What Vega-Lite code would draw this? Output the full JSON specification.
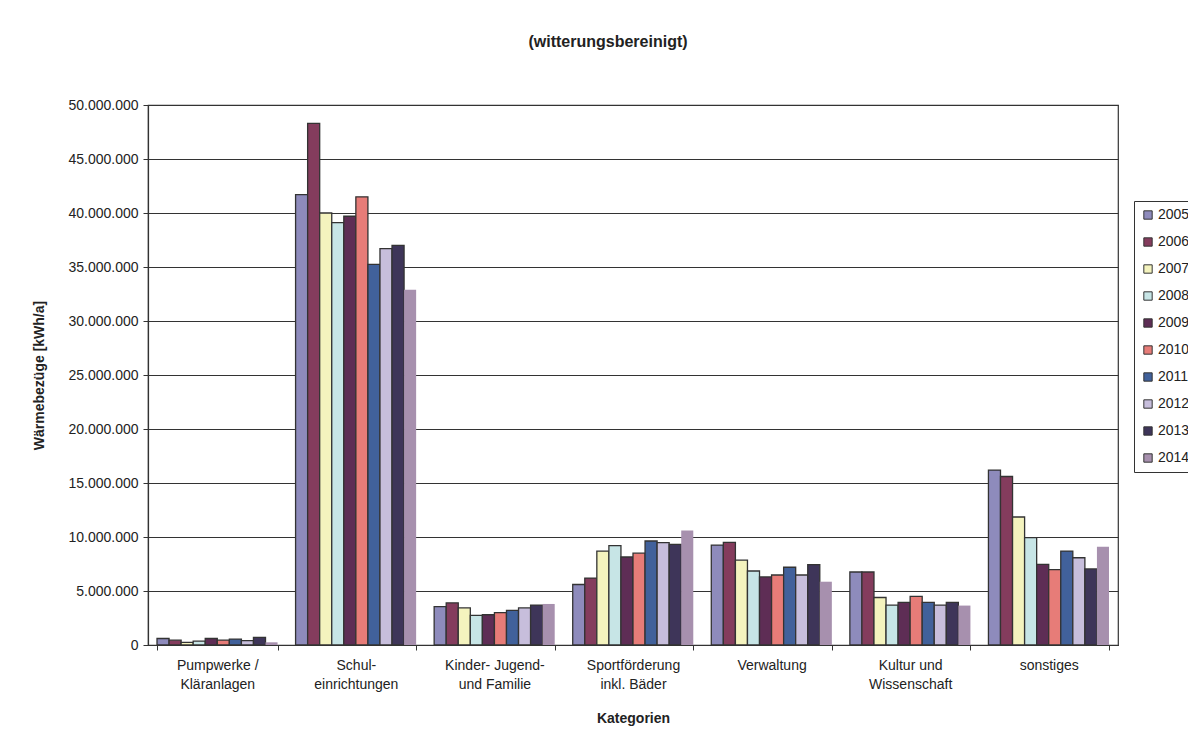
{
  "$schema": "https://vega.github.io/schema/vega-lite/v6.json",
  "width": 970,
  "height": 540,
  "autosize": {"type": "none"},
  "padding": {"left": 148, "top": 105, "right": 70, "bottom": 95},
  "background": "#ffffff",
  "title": {
    "text": "(witterungsbereinigt)",
    "font": "Liberation Sans",
    "fontSize": 16,
    "fontWeight": "bold",
    "color": "#222222",
    "anchor": "middle",
    "dx": -25,
    "offset": 48
  },
  "config": {
    "locale": {"number": {"decimal": ",", "thousands": ".", "grouping": [3], "currency": ["", " €"]}},
    "view": {"stroke": "#333333", "strokeWidth": 1.2},
    "font": "Liberation Sans"
  },
  "data": {
    "values": [
      {"kategorie": "Pumpwerke /\nKläranlagen", "jahr": "2005", "wert": 600000},
      {"kategorie": "Pumpwerke /\nKläranlagen", "jahr": "2006", "wert": 450000},
      {"kategorie": "Pumpwerke /\nKläranlagen", "jahr": "2007", "wert": 250000},
      {"kategorie": "Pumpwerke /\nKläranlagen", "jahr": "2008", "wert": 350000},
      {"kategorie": "Pumpwerke /\nKläranlagen", "jahr": "2009", "wert": 600000},
      {"kategorie": "Pumpwerke /\nKläranlagen", "jahr": "2010", "wert": 450000},
      {"kategorie": "Pumpwerke /\nKläranlagen", "jahr": "2011", "wert": 550000},
      {"kategorie": "Pumpwerke /\nKläranlagen", "jahr": "2012", "wert": 400000},
      {"kategorie": "Pumpwerke /\nKläranlagen", "jahr": "2013", "wert": 700000},
      {"kategorie": "Pumpwerke /\nKläranlagen", "jahr": "2014", "wert": 250000},
      {"kategorie": "Schul-\neinrichtungen", "jahr": "2005", "wert": 41700000},
      {"kategorie": "Schul-\neinrichtungen", "jahr": "2006", "wert": 48300000},
      {"kategorie": "Schul-\neinrichtungen", "jahr": "2007", "wert": 40000000},
      {"kategorie": "Schul-\neinrichtungen", "jahr": "2008", "wert": 39100000},
      {"kategorie": "Schul-\neinrichtungen", "jahr": "2009", "wert": 39700000},
      {"kategorie": "Schul-\neinrichtungen", "jahr": "2010", "wert": 41500000},
      {"kategorie": "Schul-\neinrichtungen", "jahr": "2011", "wert": 35250000},
      {"kategorie": "Schul-\neinrichtungen", "jahr": "2012", "wert": 36700000},
      {"kategorie": "Schul-\neinrichtungen", "jahr": "2013", "wert": 37000000},
      {"kategorie": "Schul-\neinrichtungen", "jahr": "2014", "wert": 32900000},
      {"kategorie": "Kinder- Jugend-\nund Familie", "jahr": "2005", "wert": 3550000},
      {"kategorie": "Kinder- Jugend-\nund Familie", "jahr": "2006", "wert": 3900000},
      {"kategorie": "Kinder- Jugend-\nund Familie", "jahr": "2007", "wert": 3430000},
      {"kategorie": "Kinder- Jugend-\nund Familie", "jahr": "2008", "wert": 2750000},
      {"kategorie": "Kinder- Jugend-\nund Familie", "jahr": "2009", "wert": 2800000},
      {"kategorie": "Kinder- Jugend-\nund Familie", "jahr": "2010", "wert": 3000000},
      {"kategorie": "Kinder- Jugend-\nund Familie", "jahr": "2011", "wert": 3200000},
      {"kategorie": "Kinder- Jugend-\nund Familie", "jahr": "2012", "wert": 3430000},
      {"kategorie": "Kinder- Jugend-\nund Familie", "jahr": "2013", "wert": 3700000},
      {"kategorie": "Kinder- Jugend-\nund Familie", "jahr": "2014", "wert": 3800000},
      {"kategorie": "Sportförderung\ninkl. Bäder", "jahr": "2005", "wert": 5600000},
      {"kategorie": "Sportförderung\ninkl. Bäder", "jahr": "2006", "wert": 6200000},
      {"kategorie": "Sportförderung\ninkl. Bäder", "jahr": "2007", "wert": 8700000},
      {"kategorie": "Sportförderung\ninkl. Bäder", "jahr": "2008", "wert": 9200000},
      {"kategorie": "Sportförderung\ninkl. Bäder", "jahr": "2009", "wert": 8150000},
      {"kategorie": "Sportförderung\ninkl. Bäder", "jahr": "2010", "wert": 8500000},
      {"kategorie": "Sportförderung\ninkl. Bäder", "jahr": "2011", "wert": 9630000},
      {"kategorie": "Sportförderung\ninkl. Bäder", "jahr": "2012", "wert": 9470000},
      {"kategorie": "Sportförderung\ninkl. Bäder", "jahr": "2013", "wert": 9320000},
      {"kategorie": "Sportförderung\ninkl. Bäder", "jahr": "2014", "wert": 10600000},
      {"kategorie": "Verwaltung", "jahr": "2005", "wert": 9250000},
      {"kategorie": "Verwaltung", "jahr": "2006", "wert": 9500000},
      {"kategorie": "Verwaltung", "jahr": "2007", "wert": 7850000},
      {"kategorie": "Verwaltung", "jahr": "2008", "wert": 6850000},
      {"kategorie": "Verwaltung", "jahr": "2009", "wert": 6300000},
      {"kategorie": "Verwaltung", "jahr": "2010", "wert": 6480000},
      {"kategorie": "Verwaltung", "jahr": "2011", "wert": 7200000},
      {"kategorie": "Verwaltung", "jahr": "2012", "wert": 6480000},
      {"kategorie": "Verwaltung", "jahr": "2013", "wert": 7450000},
      {"kategorie": "Verwaltung", "jahr": "2014", "wert": 5860000},
      {"kategorie": "Kultur und\nWissenschaft", "jahr": "2005", "wert": 6760000},
      {"kategorie": "Kultur und\nWissenschaft", "jahr": "2006", "wert": 6760000},
      {"kategorie": "Kultur und\nWissenschaft", "jahr": "2007", "wert": 4400000},
      {"kategorie": "Kultur und\nWissenschaft", "jahr": "2008", "wert": 3700000},
      {"kategorie": "Kultur und\nWissenschaft", "jahr": "2009", "wert": 3950000},
      {"kategorie": "Kultur und\nWissenschaft", "jahr": "2010", "wert": 4500000},
      {"kategorie": "Kultur und\nWissenschaft", "jahr": "2011", "wert": 3950000},
      {"kategorie": "Kultur und\nWissenschaft", "jahr": "2012", "wert": 3700000},
      {"kategorie": "Kultur und\nWissenschaft", "jahr": "2013", "wert": 3950000},
      {"kategorie": "Kultur und\nWissenschaft", "jahr": "2014", "wert": 3650000},
      {"kategorie": "sonstiges", "jahr": "2005", "wert": 16200000},
      {"kategorie": "sonstiges", "jahr": "2006", "wert": 15600000},
      {"kategorie": "sonstiges", "jahr": "2007", "wert": 11850000},
      {"kategorie": "sonstiges", "jahr": "2008", "wert": 9950000},
      {"kategorie": "sonstiges", "jahr": "2009", "wert": 7470000},
      {"kategorie": "sonstiges", "jahr": "2010", "wert": 6970000},
      {"kategorie": "sonstiges", "jahr": "2011", "wert": 8700000},
      {"kategorie": "sonstiges", "jahr": "2012", "wert": 8080000},
      {"kategorie": "sonstiges", "jahr": "2013", "wert": 7040000},
      {"kategorie": "sonstiges", "jahr": "2014", "wert": 9100000}
    ]
  },
  "mark": {"type": "bar", "strokeWidth": 1.3},
  "encoding": {
    "x": {
      "field": "kategorie",
      "type": "nominal",
      "sort": null,
      "scale": {"paddingInner": 0.13, "paddingOuter": 0.065},
      "axis": {
        "title": "Kategorien",
        "titleFont": "Liberation Sans",
        "titleFontSize": 14,
        "titleFontWeight": "bold",
        "titleColor": "#222222",
        "titlePadding": 20,
        "labelAngle": 0,
        "labelExpr": "split(datum.label, '\\n')",
        "labelFont": "Liberation Sans",
        "labelFontSize": 14,
        "labelColor": "#222222",
        "labelPadding": 8,
        "labelLineHeight": 19,
        "tickBand": "extent",
        "tickColor": "#333333",
        "tickSize": 5,
        "domainColor": "#333333",
        "domainWidth": 1.2
      }
    },
    "xOffset": {"field": "jahr", "type": "nominal", "scale": {"paddingInner": 0, "paddingOuter": 0}},
    "y": {
      "field": "wert",
      "type": "quantitative",
      "scale": {"domain": [0, 50000000], "nice": false},
      "axis": {
        "title": "Wärmebezüge [kWh/a]",
        "titleFont": "Liberation Sans",
        "titleFontSize": 14,
        "titleFontWeight": "bold",
        "titleColor": "#222222",
        "titlePadding": 21,
        "values": [0, 5000000, 10000000, 15000000, 20000000, 25000000, 30000000, 35000000, 40000000, 45000000, 50000000],
        "format": ",d",
        "labelFont": "Liberation Sans",
        "labelFontSize": 14,
        "labelColor": "#222222",
        "labelPadding": 5,
        "tickColor": "#333333",
        "tickSize": 5,
        "domainColor": "#333333",
        "domainWidth": 1.2,
        "grid": true,
        "gridColor": "#333333",
        "gridWidth": 1.2
      }
    },
    "color": {
      "field": "jahr",
      "type": "nominal",
      "scale": {
        "domain": ["2005", "2006", "2007", "2008", "2009", "2010", "2011", "2012", "2013", "2014"],
        "range": ["#8E8BBC", "#843C5D", "#F4F3BE", "#C7E5E6", "#5E2D55", "#E77C78", "#41619B", "#C7BEDC", "#3E3559", "#A790AE"]
      },
      "legend": {
        "title": null,
        "orient": "none",
        "legendX": 986,
        "legendY": 96,
        "labelFont": "Liberation Sans",
        "labelFontSize": 14,
        "labelColor": "#222222",
        "labelOffset": 3,
        "symbolType": "square",
        "symbolSize": 70,
        "symbolStrokeColor": "#333333",
        "symbolStrokeWidth": 1,
        "rowPadding": 13,
        "padding": 7,
        "strokeColor": "#333333",
        "fillColor": "#ffffff"
      }
    },
    "stroke": {
      "condition": {"test": "datum.jahr === '2014'", "value": "transparent"},
      "value": "#333333"
    }
  }
}
